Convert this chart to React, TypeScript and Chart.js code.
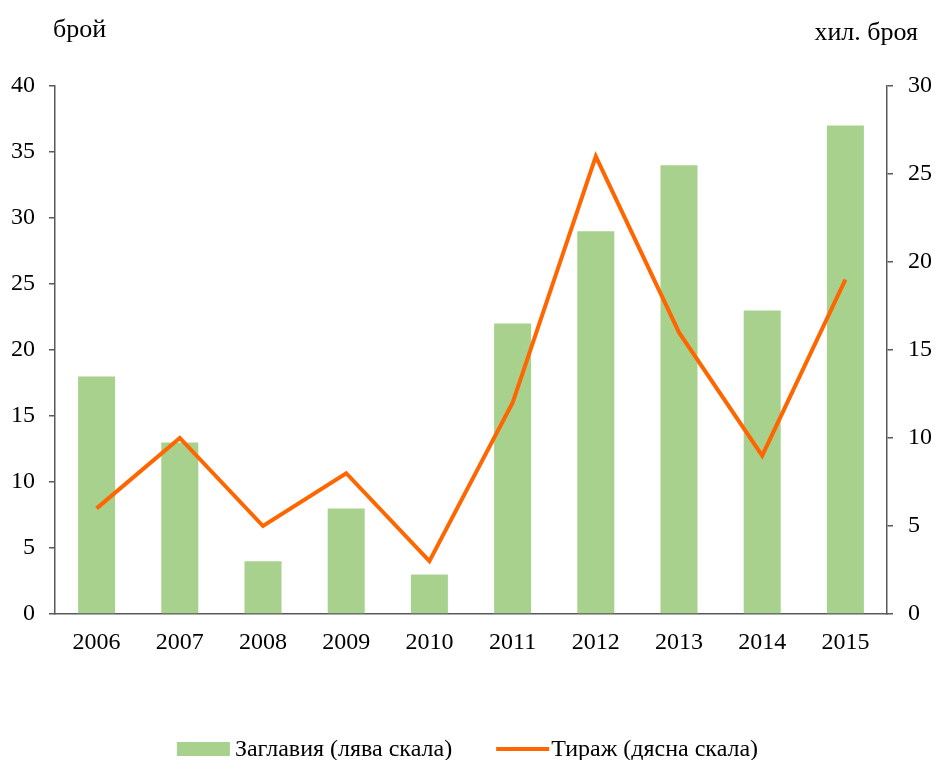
import React, { useEffect, useRef } from "react";
import { Chart, registerables } from "chart.js";

Chart.register(...registerables);

const years = ["2006", "2007", "2008", "2009", "2010", "2011", "2012", "2013", "2014", "2015"];
const titlesCount = [18, 13, 4, 8, 3, 22, 29, 34, 23, 37];
const circulation = [6, 10, 5, 8, 3, 12, 26, 16, 9, 19];
const barLabel = "Заглавия (лява скала)";
const lineLabel = "Тираж (дясна скала)";
const leftUnit = "брой";
const rightUnit = "хил. броя";

const FONT = "'Liberation Serif', 'Times New Roman', serif";
const FS = 24;
const TITLE_FS = 26;
const GREEN = "#A9D18E";
const ORANGE = "#FF6600";
const AXIS = "#595959";

const extrasPlugin = {
  id: "extras",
  afterDraw(chart: any) {
    const ctx = chart.ctx;
    const area = chart.chartArea;
    ctx.save();
    ctx.fillStyle = "#000";
    ctx.font = `${TITLE_FS}px ${FONT}`;
    ctx.textBaseline = "alphabetic";
    ctx.textAlign = "left";
    ctx.fillText(leftUnit, area.left - 2, 37);
    ctx.textAlign = "right";
    ctx.fillText(rightUnit, area.right + 31, 40);

    // legend
    ctx.font = `${FS}px ${FONT}`;
    const boxW = 53;
    const boxH = 14;
    const gapBT = 5;
    const gapItems = 44;
    const w1 = ctx.measureText(barLabel).width;
    const w2 = ctx.measureText(lineLabel).width;
    const total = boxW + gapBT + w1 + gapItems + boxW + 2 + w2;
    let x = (chart.width - total) / 2;
    const cy = 749;
    ctx.fillStyle = GREEN;
    ctx.fillRect(x, cy - boxH / 2, boxW, boxH);
    x += boxW + gapBT;
    ctx.fillStyle = "#000";
    ctx.textAlign = "left";
    ctx.textBaseline = "middle";
    ctx.fillText(barLabel, x, cy + 1);
    x += w1 + gapItems;
    ctx.strokeStyle = ORANGE;
    ctx.lineWidth = 4;
    ctx.beginPath();
    ctx.moveTo(x, cy);
    ctx.lineTo(x + boxW, cy);
    ctx.stroke();
    x += boxW + 2;
    ctx.fillText(lineLabel, x, cy + 1);
    ctx.restore();
  },
};

export default function App() {
  const ref = useRef<HTMLCanvasElement | null>(null);
  useEffect(() => {
    document.body.style.margin = "0";
    const canvas = ref.current;
    if (!canvas) return;
    const chart = new Chart(canvas, {
      type: "bar",
      data: {
        labels: years,
        datasets: [
          {
            type: "line",
            label: lineLabel,
            data: circulation,
            yAxisID: "y1",
            borderColor: ORANGE,
            backgroundColor: ORANGE,
            borderWidth: 4,
            pointRadius: 0,
            tension: 0,
            order: 0,
          } as any,
          {
            type: "bar",
            label: barLabel,
            data: titlesCount,
            yAxisID: "y",
            backgroundColor: GREEN,
            borderWidth: 0,
            categoryPercentage: 1,
            barPercentage: 0.445,
            order: 1,
          } as any,
        ],
      },
      options: {
        animation: false,
        responsive: false,
        maintainAspectRatio: false,
        layout: { padding: { top: 86, left: 0, right: 0, bottom: 0 } },
        plugins: { legend: { display: false }, tooltip: { enabled: false }, title: { display: false } },
        scales: {
          x: {
            grid: { display: false, drawTicks: false },
            border: { display: true, color: AXIS, width: 1.5 },
            ticks: { color: "#000", font: { family: FONT, size: FS }, padding: 14, maxRotation: 0 },
            afterFit(scale: any) {
              scale.height = 146;
            },
          },
          y: {
            position: "left",
            min: 0,
            max: 40,
            ticks: { stepSize: 5, color: "#000", font: { family: FONT, size: FS }, padding: 14 },
            grid: { drawOnChartArea: false, drawTicks: true, tickLength: 6, color: AXIS, lineWidth: 1.5 },
            border: { display: true, color: AXIS, width: 1.5 },
            afterFit(scale: any) {
              scale.width = 55;
            },
          },
          y1: {
            position: "right",
            min: 0,
            max: 30,
            ticks: { stepSize: 5, color: "#000", font: { family: FONT, size: FS }, padding: 15 },
            grid: { drawOnChartArea: false, drawTicks: true, tickLength: 6, color: AXIS, lineWidth: 1.5 },
            border: { display: true, color: AXIS, width: 1.5 },
            afterFit(scale: any) {
              scale.width = 48;
            },
          },
        },
      },
      plugins: [extrasPlugin],
    });
    return () => chart.destroy();
  }, []);
  return (
    <div style={{ width: 935, height: 760, background: "#fff" }}>
      <canvas ref={ref} width={935} height={760} style={{ display: "block" }} />
    </div>
  );
}
